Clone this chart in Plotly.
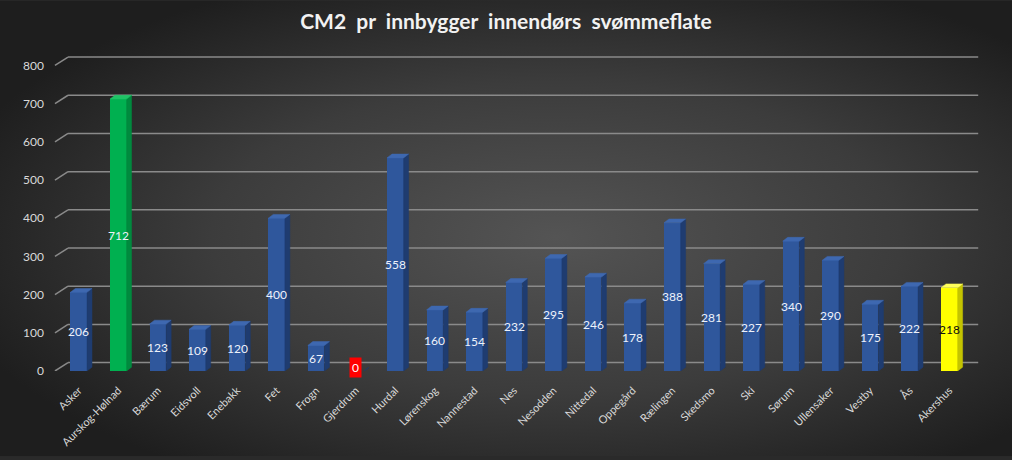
import base64
import plotly.graph_objects as go

categories = ["Asker", "Aurskog-Hølnad", "Bærum", "Eidsvoll", "Enebakk", "Fet", "Frogn",
              "Gjerdrum", "Hurdal", "Lørenskog", "Nannestad", "Nes", "Nesodden", "Nittedal",
              "Oppegård", "Rælingen", "Skedsmo", "Ski", "Sørum", "Ullensaker", "Vestby", "Ås",
              "Akershus"]
values = [206, 712, 123, 109, 120, 400, 67, 0, 558, 160, 154, 232, 295, 246, 178, 388,
          281, 227, 340, 290, 175, 222, 218]
y_ticks = [0, 100, 200, 300, 400, 500, 600, 700, 800]
title_text = "CM2\u00a0 pr\u00a0 innbygger\u00a0 innendørs\u00a0 svømmeflate"

W, H = 1012, 460
ML, MR, MT, MB = 51, 33, 54, 86
PW, PH = W - ML - MR, H - MT - MB

BLUE = ("#2f579c", "#1f3c70", "#3e68b0")
GREEN = ("#00b050", "#008a3e", "#1fc566")
YELLOW = ("#ffff00", "#c4c400", "#ffff5a")

def colors_for(name):
    if name == "Aurskog-Hølnad":
        return GREEN
    if name == "Akershus":
        return YELLOW
    return BLUE

bw = 0.42      # front face width (category units)
dx = 0.126     # depth in x
dy = 10        # depth in y (value units)
wall_dy = 22   # back wall offset
x_idx = list(range(len(categories)))

fig = go.Figure()

# front faces
fig.add_trace(go.Bar(
    x=x_idx, y=values, width=bw,
    marker=dict(color=[colors_for(c)[0] for c in categories], line=dict(width=0)),
    hoverinfo="skip", showlegend=False,
))

# side & top faces
for i, (c, v) in enumerate(zip(categories, values)):
    front, side, top = colors_for(c)
    xr = i + bw / 2
    xl = i - bw / 2
    fig.add_trace(go.Scatter(
        x=[xr, xr + dx, xr + dx, xr, xr], y=[0, dy, v + dy, v, 0],
        fill="toself", fillcolor=side, mode="lines", line=dict(width=0.5, color=side),
        hoverinfo="skip", showlegend=False))
    if v > 0:
        fig.add_trace(go.Scatter(
            x=[xl, xr, xr + dx, xl + dx, xl], y=[v, v, v + dy, v + dy, v],
            fill="toself", fillcolor=top, mode="lines", line=dict(width=0.5, color=top),
            hoverinfo="skip", showlegend=False))

# value labels
for i, (c, v) in enumerate(zip(categories, values)):
    if v == 0:
        fig.add_annotation(x=i, y=v / 2, text=str(v), showarrow=False, yshift=4,
                           font=dict(family="Lato", size=12, color="#ffffff"),
                           bgcolor="#ff0000", borderpad=2)
    else:
        fig.add_annotation(x=i, y=v / 2, text=str(v), showarrow=False,
                           font=dict(family="Lato", size=12,
                                     color="#111111" if c == "Akershus" else "#eef2fa"))

# perspective gridlines (back wall)
x_front = -0.6
x_back = -0.27
x_end = 22.73
grid_shapes = []
for t in y_ticks:
    grid_shapes.append(dict(type="line", xref="x", yref="y", x0=x_front, y0=t,
                            x1=x_back, y1=t + wall_dy, layer="below",
                            line=dict(color="#8a8a8a", width=1.5)))
    grid_shapes.append(dict(type="line", xref="x", yref="y", x0=x_back, y0=t + wall_dy,
                            x1=x_end, y1=t + wall_dy, layer="below",
                            line=dict(color="#8a8a8a", width=1.5)))

# radial gradient background
svg = f'''<svg xmlns="http://www.w3.org/2000/svg" width="{W}" height="{H}" viewBox="0 0 {W} {H}">
<defs><radialGradient id="g" cx="0.55" cy="0.52" r="0.62" fx="0.55" fy="0.52">
<stop offset="0" stop-color="#545454"/><stop offset="0.55" stop-color="#3c3c3c"/>
<stop offset="1" stop-color="#1e1e1e"/></radialGradient></defs>
<rect width="{W}" height="{H}" fill="url(#g)"/></svg>'''
uri = "data:image/svg+xml;base64," + base64.b64encode(svg.encode()).decode()

fig.update_layout(
    width=W, height=H,
    margin=dict(l=ML, r=MR, t=MT, b=MB, pad=0),
    paper_bgcolor="#2a2a2a",
    plot_bgcolor="rgba(0,0,0,0)",
    title=dict(text=title_text, x=0.5, xanchor="center", y=1 - 22 / H, yanchor="middle",
               font=dict(family="Lato", size=21, color="#f2f2f2", weight="bold")),
    images=[dict(source=uri, xref="paper", yref="paper", x=-ML / PW, y=1 + MT / PH,
                 sizex=W / PW, sizey=H / PH, xanchor="left", yanchor="top",
                 sizing="stretch", layer="below")],
    shapes=grid_shapes,
    xaxis=dict(range=[-0.7, 22.75], tickmode="array",
               tickvals=x_idx, ticktext=categories, tickangle=-45,
               showgrid=False, zeroline=False, showline=False, ticks="",
               ticklabelstandoff=10,
               tickfont=dict(family="Lato", size=11, color="#d9d9d9")),
    yaxis=dict(range=[0, 830], tickmode="array", tickvals=y_ticks,
               showgrid=False, zeroline=False, showline=False, ticks="",
               ticklabelstandoff=6,
               tickfont=dict(family="Lato", size=12, color="#d9d9d9")),
    bargap=0,
)

fig.write_html("out.html")
